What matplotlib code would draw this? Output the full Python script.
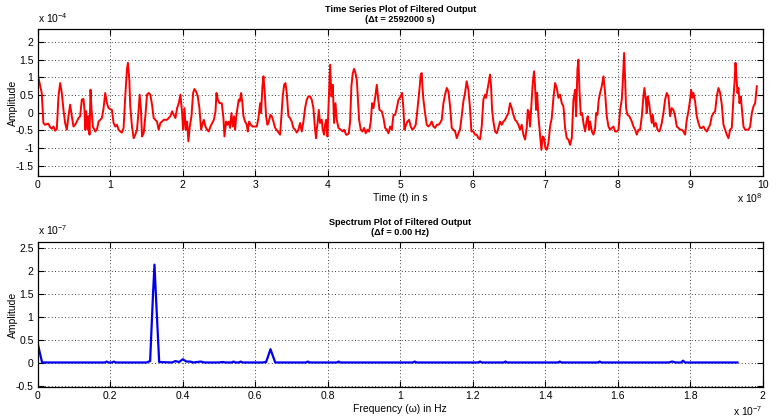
import matplotlib
matplotlib.use('Agg')
import matplotlib.pyplot as plt
import numpy as np

plt.rcParams['font.family'] = ['Liberation Sans', 'DejaVu Sans']
plt.rcParams['mathtext.default'] = 'regular'

# time series: t in 1e8 s, amplitude in 1e-4
t = [0.00, 0.055, 0.078, 0.101, 0.147, 0.171, 0.194, 0.217, 0.240, 0.263, 0.286, 0.309, 0.332, 0.355, 0.378,
     0.401, 0.424, 0.447, 0.470, 0.493, 0.516, 0.539, 0.562, 0.585, 0.608, 0.631, 0.645, 0.654, 0.668, 0.687,
     0.700, 0.714, 0.728, 0.742, 0.760, 0.793, 0.816, 0.839, 0.862, 0.885, 0.908, 0.931, 0.954, 0.977, 1.000,
     1.023, 1.046, 1.069, 1.092, 1.115, 1.138, 1.161, 1.184, 1.207, 1.230, 1.244, 1.263, 1.276, 1.300, 1.323,
     1.346, 1.369, 1.392, 1.406, 1.424, 1.438, 1.461, 1.484, 1.507, 1.530, 1.553, 1.576, 1.599, 1.622, 1.645,
     1.668, 1.691, 1.714, 1.737, 1.783, 1.806, 1.829, 1.853, 1.876, 1.899, 1.922, 1.945, 1.968, 1.991, 2.005,
     2.023, 2.041, 2.060, 2.078, 2.097, 2.120, 2.143, 2.161, 2.184, 2.207, 2.230, 2.253, 2.276, 2.290, 2.313,
     2.336, 2.359, 2.382, 2.406, 2.429, 2.452, 2.465, 2.484, 2.507,
     2.538, 2.561, 2.575, 2.598, 2.616, 2.634, 2.653, 2.671, 2.690, 2.708, 2.722, 2.736, 2.754, 2.772, 2.786,
     2.805, 2.823, 2.837, 2.860, 2.883, 2.897, 2.915, 2.938, 2.961, 2.998, 3.021, 3.044, 3.067, 3.080, 3.099,
     3.113, 3.131, 3.149, 3.168, 3.186, 3.209, 3.228, 3.251, 3.274, 3.310, 3.343, 3.361, 3.379, 3.398, 3.416,
     3.434, 3.457, 3.480, 3.503, 3.526, 3.549, 3.572, 3.595, 3.618, 3.641, 3.664, 3.687, 3.710, 3.733, 3.756,
     3.779, 3.802, 3.825, 3.839, 3.848, 3.862, 3.876, 3.894, 3.917, 3.931, 3.949, 3.963, 3.977, 3.995, 4.009,
     4.032, 4.051, 4.069, 4.087, 4.106, 4.124, 4.147, 4.179, 4.207, 4.225, 4.253, 4.271, 4.290, 4.308, 4.326,
     4.345, 4.363, 4.382, 4.400, 4.414, 4.432, 4.455, 4.478, 4.501, 4.524, 4.547, 4.570, 4.593, 4.611, 4.630,
     4.653, 4.676, 4.694, 4.713, 4.745, 4.768, 4.791, 4.814, 4.837, 4.860, 4.883, 4.906, 4.929, 4.952, 4.975,
     5.006, 5.025, 5.043, 5.057, 5.080, 5.098, 5.121, 5.144, 5.167, 5.190, 5.213, 5.227, 5.250, 5.264, 5.282,
     5.296, 5.305, 5.319, 5.342, 5.365, 5.388, 5.411, 5.434, 5.457, 5.480, 5.503, 5.526, 5.549, 5.572, 5.595,
     5.618, 5.641, 5.664, 5.687, 5.710, 5.733, 5.756, 5.779, 5.802, 5.824, 5.847, 5.870, 5.893, 5.916, 5.939,
     5.962, 5.981, 6.008, 6.031, 6.054, 6.077, 6.100, 6.123, 6.146, 6.169, 6.183, 6.202, 6.225, 6.238, 6.252,
     6.266, 6.284, 6.307, 6.330, 6.353, 6.376, 6.399, 6.422, 6.445, 6.468, 6.491, 6.514, 6.537, 6.560, 6.583,
     6.606, 6.629, 6.652, 6.675, 6.698, 6.721, 6.744, 6.758, 6.772, 6.790, 6.813, 6.827, 6.845, 6.859, 6.873,
     6.887, 6.905, 6.928, 6.946, 6.965, 6.983, 7.001, 7.020, 7.043, 7.066, 7.089, 7.112, 7.135, 7.158, 7.181,
     7.204, 7.227, 7.250, 7.273, 7.296, 7.319, 7.342,
     7.365, 7.388, 7.411, 7.425, 7.443, 7.457, 7.471, 7.489, 7.508, 7.526, 7.549, 7.572, 7.586, 7.604, 7.618,
     7.641, 7.664, 7.687, 7.701, 7.719, 7.737, 7.756, 7.779, 7.802, 7.825, 7.848, 7.871, 7.894, 7.917, 7.940,
     7.963, 7.986, 8.009, 8.032, 8.055, 8.068, 8.087, 8.101, 8.114, 8.133, 8.160, 8.193, 8.216, 8.239, 8.262,
     8.285, 8.308, 8.331, 8.353, 8.367, 8.386, 8.399, 8.413, 8.432, 8.445, 8.468, 8.482, 8.501, 8.524, 8.547,
     8.570, 8.583, 8.606, 8.629, 8.652, 8.675, 8.698, 8.721, 8.744, 8.767, 8.790, 8.813, 8.836, 8.859, 8.882,
     8.905, 8.928, 8.951, 8.974, 8.997, 9.011, 9.029, 9.043, 9.066, 9.089, 9.112, 9.135, 9.158, 9.181, 9.204,
     9.227, 9.250, 9.273, 9.296, 9.319, 9.342, 9.365, 9.388, 9.411, 9.434, 9.457, 9.480, 9.503, 9.526, 9.549,
     9.572, 9.595, 9.609, 9.623, 9.636, 9.650, 9.664, 9.678, 9.696, 9.719, 9.733, 9.756, 9.779, 9.802, 9.825,
     9.848, 9.871, 9.894, 9.917]
amp = [1.08, 0.56, -0.29, -0.34, -0.31, -0.41, -0.45, -0.39, -0.51, -0.46, 0.46, 0.84, 0.56, 0.08, -0.29,
       -0.48, -0.10, 0.23, -0.10, -0.39, -0.34, -0.25, -0.15, -0.10, 0.37, 0.39, 0.08, -0.48, 0.04, -0.48,
       -0.10, -0.62, 0.65, 0.08, -0.39, -0.53, -0.48, -0.25, -0.20, -0.15, 0.13, 0.56, 0.27, 0.13, 0.10,
       0.08, -0.29, -0.39, -0.34, -0.48, -0.53, -0.56, -0.43, 0.46, 1.22, 1.41, 0.93, 0.18, -0.39, -0.72,
       -0.62, -0.48, 0.08, 0.51, 0.08, -0.67, -0.58, -0.10, 0.51, 0.56, 0.51, 0.23, -0.15, -0.20, -0.25,
       -0.48, -0.29, -0.25, -0.20, -0.20, -0.15, -0.10, 0.04, -0.06, -0.15, 0.13, 0.27, 0.51, -0.01, -0.48,
       0.13, -0.48, -0.25, -0.81, -0.39, -0.10, 0.56, 0.67, 0.60, 0.46, 0.13, -0.48, -0.29, -0.20, -0.39,
       -0.48, -0.53, -0.39, -0.29, -0.20, 0.04, 0.56, 0.37, 0.27,
       0.27, -0.15, -0.67, -0.25, -0.34, -0.25, -0.43, -0.01, -0.39, -0.10, -0.48, -0.15, 0.13, 0.37, 0.32,
       0.56, 0.27, -0.10, -0.25, -0.34, -0.53, -0.25, -0.34, -0.39, -0.39, -0.39, -0.15, 0.27, -0.01, 0.75,
       1.03, 0.56, -0.10, -0.34, -0.25, -0.06, -0.10, -0.25, -0.43, -0.53, -0.62, -0.10, 0.46, 0.79, 0.84,
       0.56, -0.10, -0.15, -0.25, -0.43, -0.48, -0.56, -0.48, -0.29, -0.53, -0.25, 0.13, 0.37, 0.46, 0.46,
       0.37, 0.13, -0.48, -0.72, -0.48, -0.25, 0.08, -0.29, -0.20, -0.48, -0.62, -0.34, -0.20, -0.67, 0.08,
       1.36, 0.46, 0.79, -0.29, 0.27, -0.20, -0.43, -0.48, -0.53, -0.48, -0.62, -0.62, -0.58, -0.25, 0.75,
       1.12, 1.24, 1.12, 0.93, 0.46, -0.20, -0.48, -0.53, -0.43, -0.58, -0.48, -0.53, -0.25, 0.27, 0.13,
       0.42, 0.79, 0.42, 0.08, 0.04, -0.15, -0.43, -0.48, -0.58, -0.39, -0.48, -0.06, -0.06, 0.13, 0.37,
       0.46, 0.56, 0.13, -0.48, -0.34, -0.25, -0.20, -0.39, -0.48, -0.43, -0.34, -0.10, 0.37, 0.65, 1.08,
       1.12, 0.75, 0.37, -0.01, -0.34, -0.39, -0.34, -0.25, -0.39, -0.43, -0.34, -0.34, -0.29, -0.20, 0.27,
       0.51, 0.70, 0.60, 0.18, -0.43, -0.48, -0.53, -0.72, -0.58, -0.48, -0.10, 0.32, 0.56, 0.89, 0.65,
       0.13, -0.53, -0.53, -0.62, -0.62, -0.72, -0.75, -0.39, 0.37, 0.51, 0.42, 0.65, 0.93, 1.08, 0.75,
       0.08, -0.25, -0.53, -0.58, -0.43, -0.25, -0.34, -0.25, -0.20, -0.10, -0.01, 0.27, 0.13, -0.06, -0.20,
       -0.25, -0.34, -0.48, -0.34, -0.62, -0.76, -0.43, 0.08, 0.04, -0.39, 0.37, 0.84, 1.17, 0.75, 0.08,
       0.56, -0.10, -0.62, -1.05, -0.67, -0.72, -1.00, -1.05, -0.86, -0.39, -0.15, 0.42, 0.84, 0.70, 0.42,
       0.51, 0.27, 0.18, -0.43, -0.72, -0.76, -0.91,
       -0.72, 0.37, 0.65, -0.10, 1.22, 1.50, 0.65, -0.06, -0.01, -0.29, -0.53, -0.20, -0.10, -0.48, -0.25,
       -0.53, -0.62, -0.43, -0.01, -0.06, 0.37, 0.56, 0.75, 1.03, 0.56, -0.10, -0.39, -0.48, -0.43, -0.39,
       -0.53, -0.53, -0.48, 0.08, 0.37, 0.84, 1.69, 0.93, 0.13, -0.06, -0.10, -0.25, -0.39, -0.48, -0.62,
       -0.48, -0.48, -0.10, 0.46, 0.70, 0.37, -0.01, 0.46, 0.27, 0.04, -0.29, -0.06, -0.39, -0.29, -0.48,
       -0.53, -0.48, -0.29, -0.01, 0.37, 0.56, 0.46, -0.10, 0.13, 0.08, -0.10, -0.39, -0.43, -0.48, -0.48,
       -0.53, -0.62, -0.20, 0.04, 0.37, 0.65, 0.42, 0.56, 0.32, -0.10, -0.29, -0.43, -0.43, -0.39, -0.48,
       -0.53, -0.43, -0.34, -0.10, -0.01, 0.04, 0.46, 0.70, 0.56, 0.23, -0.34, -0.48, -0.62, -0.72, -0.48,
       -0.43, 0.42, 0.84, 1.41, 1.03, 0.56, 0.70, 0.27, 0.46, -0.06, -0.39, -0.48, -0.48, -0.48, -0.39,
       -0.01, 0.18, 0.27, 0.75]

# spectrum: f in 1e-7 Hz, amplitude in 1e-7
freq = [0.000, 0.012, 0.100, 0.185, 0.190, 0.195, 0.205, 0.210, 0.215, 0.300, 0.310, 0.318, 0.322,
        0.327, 0.335, 0.370, 0.380, 0.390, 0.400, 0.410, 0.420, 0.430, 0.450, 0.460, 0.500, 0.510,
        0.520, 0.535, 0.540, 0.545, 0.555, 0.560, 0.565, 0.620, 0.630, 0.642, 0.655, 0.740, 0.745,
        0.750, 0.825, 0.830, 0.835, 1.035, 1.040, 1.045, 1.215, 1.220, 1.225, 1.285, 1.290, 1.295,
        1.435, 1.440, 1.445, 1.545, 1.550, 1.555, 1.740, 1.750, 1.760, 1.775, 1.780, 1.785, 1.930]
spec = [0.42, 0.01, 0.01, 0.01, 0.03, 0.01, 0.01, 0.03, 0.01, 0.01, 0.04, 1.50, 2.14,
        1.30, 0.02, 0.01, 0.04, 0.02, 0.08, 0.03, 0.03, 0.01, 0.03, 0.01, 0.01, 0.02,
        0.01, 0.01, 0.03, 0.01, 0.01, 0.03, 0.01, 0.01, 0.02, 0.30, 0.01, 0.01, 0.03,
        0.01, 0.01, 0.03, 0.01, 0.01, 0.03, 0.01, 0.01, 0.03, 0.01, 0.01, 0.03, 0.01,
        0.01, 0.03, 0.01, 0.01, 0.03, 0.01, 0.01, 0.03, 0.01, 0.01, 0.05, 0.01, 0.01]

fig = plt.figure(figsize=(7.78, 4.2), dpi=100)
ax1 = fig.add_axes([0.0485, 0.5817, 0.932, 0.3486])
ax2 = fig.add_axes([0.0485, 0.0779, 0.932, 0.3467])

ax1.plot(t, amp, color='#ff0000', lw=1.4)
ax2.plot(freq, spec, color='#0000ee', lw=1.6)

ax1.set_xlim(0, 10)
ax1.set_ylim(-1.78, 2.36)
ax1.set_xticks(range(11))
ax1.set_yticks([-1.5, -1, -0.5, 0, 0.5, 1, 1.5, 2])
ax1.set_yticklabels(['-1.5', '-1', '-0.5', '0', '0.5', '1', '1.5', '2'])

ax2.set_xlim(0, 2)
ax2.set_ylim(-0.53, 2.64)
ax2.set_xticks(np.arange(0, 2.01, 0.2))
ax2.set_xticklabels(['0', '0.2', '0.4', '0.6', '0.8', '1', '1.2', '1.4', '1.6', '1.8', '2'])
ax2.set_yticks([-0.5, 0, 0.5, 1, 1.5, 2, 2.5])
ax2.set_yticklabels(['-0.5', '0', '0.5', '1', '1.5', '2', '2.5'])

for ax in (ax1, ax2):
    ax.grid(True, color='black', linestyle=(0, (1, 3)), lw=0.6)
    ax.tick_params(direction='in', top=True, right=True, labelsize=7.5, length=4, width=0.8, pad=3)
    for s in ax.spines.values():
        s.set_linewidth(0.9)
    ax.set_ylabel('Amplitude', fontsize=7.5)
    ax.yaxis.set_label_coords(-0.027, 0.5)

ax1.set_title('Time Series Plot of Filtered Output\n(\u0394t = 2592000 s)',
              fontsize=6.6, fontweight='bold', pad=5, linespacing=1.15)
ax2.set_title('Spectrum Plot of Filtered Output\n(\u0394f = 0.00 Hz)',
              fontsize=6.6, fontweight='bold', pad=5, linespacing=1.15)
ax1.set_xlabel('Time (t) in s', fontsize=7.5, labelpad=2)
ax2.set_xlabel('Frequency (\u03c9) in Hz', fontsize=7.5, labelpad=2)

# MATLAB style exponent labels
ax1.text(0, 1.03, r'x 10$^{-4}$', transform=ax1.transAxes, fontsize=7.5, va='bottom', ha='left')
ax1.text(1, -0.105, r'x 10$^{8}$', transform=ax1.transAxes, fontsize=7.5, va='top', ha='right')
ax2.text(0, 1.03, r'x 10$^{-7}$', transform=ax2.transAxes, fontsize=7.5, va='bottom', ha='left')
ax2.text(1, -0.115, r'x 10$^{-7}$', transform=ax2.transAxes, fontsize=7.5, va='top', ha='right')

fig.savefig('out.png', dpi=100)
